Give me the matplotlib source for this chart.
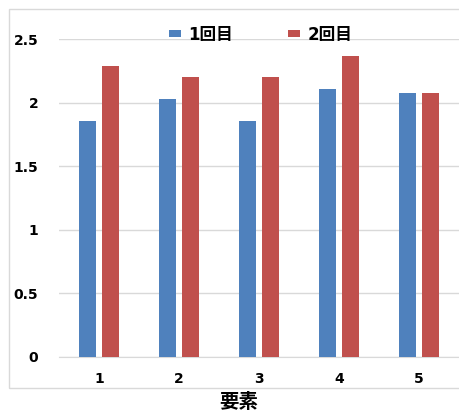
import numpy as np
import matplotlib.pyplot as plt
from matplotlib.patches import Rectangle

plt.rcParams['font.family'] = ['DejaVu Sans', 'Noto Sans CJK JP']

# データ
categories = ['1', '2', '3', '4', '5']
round1 = [1.86, 2.03, 1.86, 2.11, 2.08]
round2 = [2.29, 2.20, 2.20, 2.37, 2.08]
series_names = ['1回目', '2回目']
yticks = [0, 0.5, 1, 1.5, 2, 2.5]
ytick_labels = ['0', '0.5', '1', '1.5', '2', '2.5']

fig = plt.figure(figsize=(4.59, 4.11), dpi=100)
ax = fig.add_axes([0.1285, 0.1314, 0.8715, 0.773])

x = np.arange(1, len(categories) + 1)
w = 0.212
ax.bar(x - 0.142, round1, w, color='#4F81BD', label=series_names[0], zorder=3)
ax.bar(x + 0.142, round2, w, color='#C0504D', label=series_names[1], zorder=3)

ax.set_xlim(0.5, 5.5)
ax.set_ylim(0, 2.5)
ax.set_yticks(yticks)
ax.set_yticklabels(ytick_labels)
ax.set_xticks(x)
ax.set_xticklabels(categories)
for lab in ax.get_xticklabels() + ax.get_yticklabels():
    lab.set_fontweight('bold')
    lab.set_fontsize(10)
ax.tick_params(length=0)
ax.tick_params(axis='y', pad=15)
ax.tick_params(axis='x', pad=11)

ax.grid(axis='y', color='#D9D9D9', linewidth=1, zorder=0)
for s in ['top', 'right', 'left']:
    ax.spines[s].set_visible(False)
ax.spines['bottom'].set_color('#D9D9D9')

ax.set_xlabel('要素', fontsize=14, fontweight='bold')
ax.xaxis.set_label_coords(0.449, -0.112)
ax.xaxis.label.set_verticalalignment('top')

ax.legend(loc='center', bbox_to_anchor=(0.505, 1.015), ncol=2, frameon=False,
          prop={'weight': 'bold', 'size': 12}, handlelength=0.7,
          handleheight=0.3, columnspacing=3.3, handletextpad=0.48)

# グラフ外枠
fig.patches.append(Rectangle((8.5 / 459, 1 - 388 / 411), 1.0, 379 / 411,
                             transform=fig.transFigure, fill=False,
                             edgecolor='#D9D9D9', linewidth=1))

fig.savefig('out.png', dpi=100)
